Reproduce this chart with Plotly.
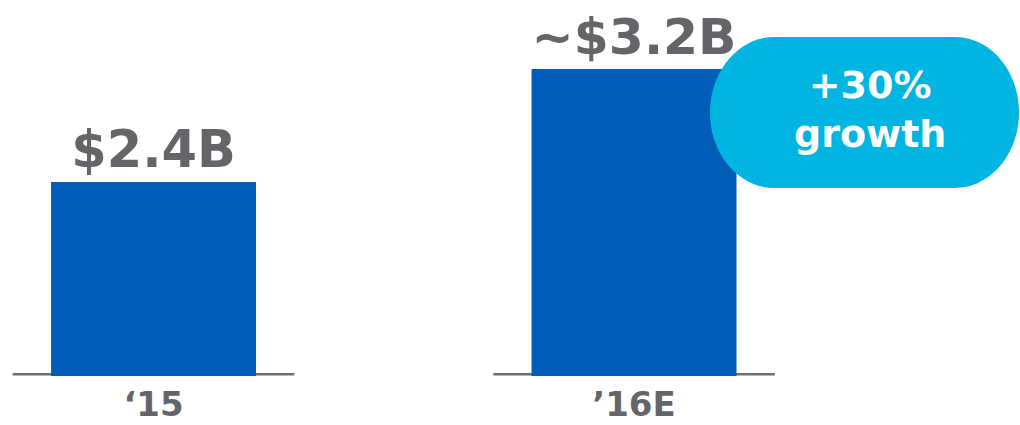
import plotly.graph_objects as go

# ---- data ----
categories = ["\u201815", "\u201916E"]
values = [2.4, 3.2]
value_labels = ["$2.4B", "~$3.2B"]
callout_text = "+30%<br>growth"

# ---- style ----
W, H = 1020, 425
BAR_BLUE = "#005EB8"
CYAN = "#00B5E2"
GRAY = "#636569"
LINE_GRAY = "#6D6E71"
FONT = "DejaVu Sans"

M_B = 49
PLOT_H = H - M_B
Y_MIN, Y_MAX = 1.027, 3.688
X_MIN, X_MAX = -0.3195, 1.8033
BAR_W = 0.4266

fig = go.Figure()
fig.add_trace(go.Bar(
    x=list(range(len(categories))),
    y=values,
    width=BAR_W,
    marker=dict(color=BAR_BLUE, line=dict(width=0)),
    text=value_labels,
    textposition="outside",
    textfont=dict(family=FONT, size=51, color=GRAY, weight="bold"),
    cliponaxis=False,
    hoverinfo="skip",
))

# baseline segments under each bar
for i in range(len(categories)):
    fig.add_shape(type="line", xref="x", yref="paper",
                  x0=i - 0.293, x1=i + 0.293, y0=1.7 / PLOT_H, y1=1.7 / PLOT_H,
                  line=dict(color=LINE_GRAY, width=2.5), layer="below")

# callout bubble (rounded pill) in pixel space converted to paper
def px(x):
    return x / W

def py(y):
    return (PLOT_H - y) / PLOT_H

bx0, bx1, by0, by1 = 710, 1019, 37, 188
rx, ry = 64, (by1 - by0) / 2
k = 0.5523
path = (
    f"M {px(bx0 + rx)},{py(by0)} L {px(bx1 - rx)},{py(by0)} "
    f"C {px(bx1 - rx + k * rx)},{py(by0)} {px(bx1)},{py(by0 + ry - k * ry)} {px(bx1)},{py(by0 + ry)} "
    f"C {px(bx1)},{py(by0 + ry + k * ry)} {px(bx1 - rx + k * rx)},{py(by1)} {px(bx1 - rx)},{py(by1)} "
    f"L {px(bx0 + rx)},{py(by1)} "
    f"C {px(bx0 + rx - k * rx)},{py(by1)} {px(bx0)},{py(by0 + ry + k * ry)} {px(bx0)},{py(by0 + ry)} "
    f"C {px(bx0)},{py(by0 + ry - k * ry)} {px(bx0 + rx - k * rx)},{py(by0)} {px(bx0 + rx)},{py(by0)} Z"
)
fig.add_shape(type="path", xref="paper", yref="paper", path=path,
              fillcolor=CYAN, line=dict(width=0), layer="above")
fig.add_annotation(xref="paper", yref="paper", x=px(870), y=py(110),
                   text=callout_text, showarrow=False,
                   xanchor="center", yanchor="middle",
                   font=dict(family=FONT, size=38, color="white", weight="bold"))

fig.update_layout(
    width=W, height=H,
    margin=dict(l=0, r=0, t=0, b=M_B, pad=0, autoexpand=False),
    paper_bgcolor="white", plot_bgcolor="white",
    showlegend=False,
    xaxis=dict(range=[X_MIN, X_MAX], tickmode="array",
               tickvals=list(range(len(categories))), ticktext=categories,
               showgrid=False, zeroline=False, showline=False, ticks="",
               ticklabelstandoff=5, automargin=False,
               tickfont=dict(family=FONT, size=34, color=GRAY, weight="bold"),
               fixedrange=True),
    yaxis=dict(range=[Y_MIN, Y_MAX], visible=False, showgrid=False,
               zeroline=False, fixedrange=True, automargin=False),
)

fig.write_html("out.html")
